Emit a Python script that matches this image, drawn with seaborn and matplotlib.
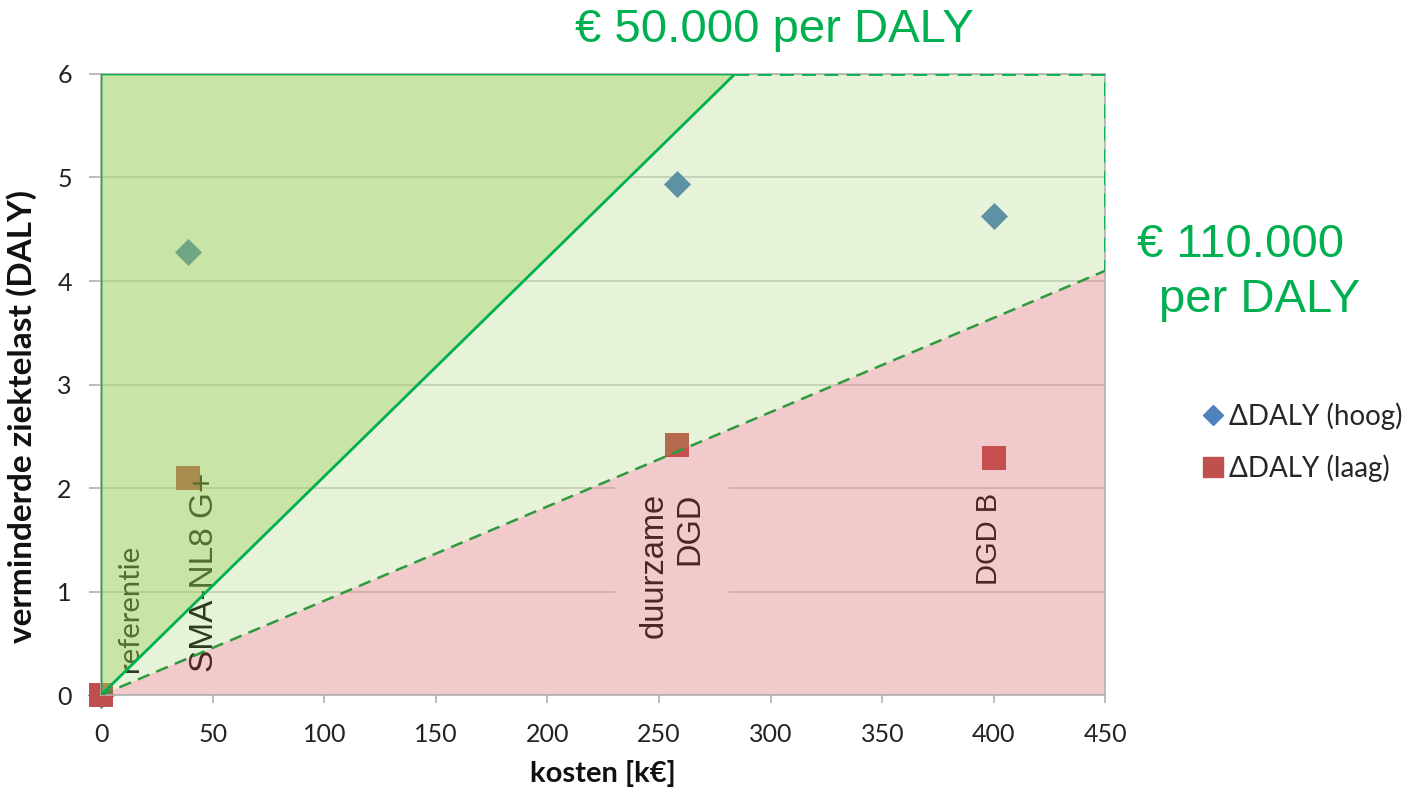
import matplotlib
matplotlib.use("Agg")
import matplotlib.pyplot as plt
from matplotlib.lines import Line2D
import seaborn as sns
import pandas as pd

# data
kosten = [0, 39, 258, 400]
daly_hoog = [0, 4.28, 4.94, 4.63]
daly_laag = [0, 2.10, 2.42, 2.29]

# cost-effectiveness boundaries (k€, DALY)
grens_50k = [(0, 0), (0, 6), (284, 6)]
grens_tussen = [(0, 0), (284, 6), (450, 6), (450, 4.1)]
grens_110k = [(0, 0), (450, 4.1), (450, 0)]

x_ticks = [0, 50, 100, 150, 200, 250, 300, 350, 400, 450]
y_ticks = [0, 1, 2, 3, 4, 5, 6]

sns.set_theme(style="white")
plt.rcParams["font.family"] = ["Lato", "DejaVu Sans"]

GREEN = "#00B050"
BLUE = "#4F81BD"
RED = "#C0504D"

fig = plt.figure(figsize=(14.27, 7.98), dpi=100)
ax = fig.add_axes([0.0708, 0.129, 0.7039, 0.7783])
ax.set_axisbelow(True)

df = pd.DataFrame({"kosten": kosten, "hoog": daly_hoog, "laag": daly_laag})
sns.scatterplot(data=df, x="kosten", y="hoog", marker="D", s=190, color=BLUE,
                linewidth=0, zorder=1, clip_on=False, legend=False, ax=ax)
sns.scatterplot(data=df, x="kosten", y="laag", marker="s", s=300, color=RED,
                linewidth=0, zorder=1.1, clip_on=False, legend=False, ax=ax)

# option labels (drawn under the coloured regions)
lab = dict(rotation=90, color="#111111", zorder=1.5, family=["Liberation Sans", "DejaVu Sans"])
ax.text(13, 0.22, "referentie", ha="center", va="bottom", fontsize=21,
        rotation=90, color="#111111", zorder=1.5, family=["Lato", "DejaVu Sans"])
ax.text(46.5, 0.22, "SMA-NL8 G+", ha="center", va="bottom", fontsize=24, **lab)
ax.text(255.8, 1.25, "duurzame\nDGD", ha="center", va="center", fontsize=23.5,
        multialignment="right", linespacing=1.2,
        bbox=dict(facecolor="white", edgecolor="none", pad=17), **lab)
ax.text(398, 1.06, "DGD B", ha="center", va="bottom", fontsize=21, **lab)

# regions
ax.fill([p[0] for p in grens_50k], [p[1] for p in grens_50k],
        color=(147/255, 203/255, 79/255), alpha=0.5, lw=0, zorder=2)
ax.fill([p[0] for p in grens_tussen], [p[1] for p in grens_tussen],
        color=(147/255, 203/255, 79/255), alpha=0.22, lw=0, zorder=2)
ax.fill([p[0] for p in grens_110k], [p[1] for p in grens_110k],
        color=(212/255, 82/255, 85/255), alpha=0.3, lw=0, zorder=2)

# boundary lines
ax.plot([p[0] for p in grens_50k] + [0], [p[1] for p in grens_50k] + [0],
        color=GREEN, lw=2, zorder=3, solid_joinstyle="miter")
ax.plot([grens_tussen[1][0], grens_tussen[2][0], grens_tussen[3][0]],
        [grens_tussen[1][1], grens_tussen[2][1], grens_tussen[3][1]],
        color=GREEN, lw=2, ls=(0, (5, 3)), zorder=3)
ax.plot([grens_110k[0][0], grens_110k[1][0]], [grens_110k[0][1], grens_110k[1][1]],
        color="#2E9A40", lw=1.8, ls=(0, (5, 3)), zorder=3)

ax.set_xlim(0, 450)
ax.set_ylim(0, 6)
ax.set_xticks(x_ticks)
ax.set_yticks(y_ticks)
ax.yaxis.grid(True, color="#D0D0D0", lw=1.2)
ax.xaxis.grid(False)
for s in ax.spines.values():
    s.set_color("#B0B0B0")
    s.set_linewidth(1.2)
ax.tick_params(axis="both", which="major", labelsize=18, colors="#B0B0B0",
               labelcolor="#222222", direction="out", width=1.2)
ax.tick_params(axis="y", length=9, pad=12, left=True)
ax.tick_params(axis="x", length=6, pad=14, bottom=True)

ax.set_xlabel("kosten [k€]", fontsize=21, fontweight="bold", color="#111111", labelpad=10)
ax.set_ylabel("verminderde ziektelast (DALY)", fontsize=24, fontweight="bold",
              color="#111111")
ax.yaxis.set_label_coords(-0.064, 0.449)

fig.text(0.543, 0.962, "€ 50.000 per DALY", color=GREEN, fontsize=34,
         ha="center", va="center", family=["Liberation Sans", "DejaVu Sans"])
fig.text(0.8695, 0.693, "€ 110.000", color=GREEN, fontsize=34,
         ha="center", va="center", family=["Liberation Sans", "DejaVu Sans"])
fig.text(0.8826, 0.624, "per DALY", color=GREEN, fontsize=34,
         ha="center", va="center", family=["Liberation Sans", "DejaVu Sans"])

handles = [
    Line2D([], [], marker="D", ls="", color=BLUE, markersize=10, label="ΔDALY (hoog)"),
    Line2D([], [], marker="s", ls="", color=RED, markersize=14, label="ΔDALY (laag)"),
]
ax.legend(handles=handles, frameon=False, loc="center left",
          bbox_to_anchor=(0.840, 0.446), bbox_transform=fig.transFigure,
          fontsize=20, handletextpad=0.1, handlelength=1.0,
          labelspacing=0.9, borderaxespad=0, borderpad=0)

fig.savefig("out.png", dpi=100)
